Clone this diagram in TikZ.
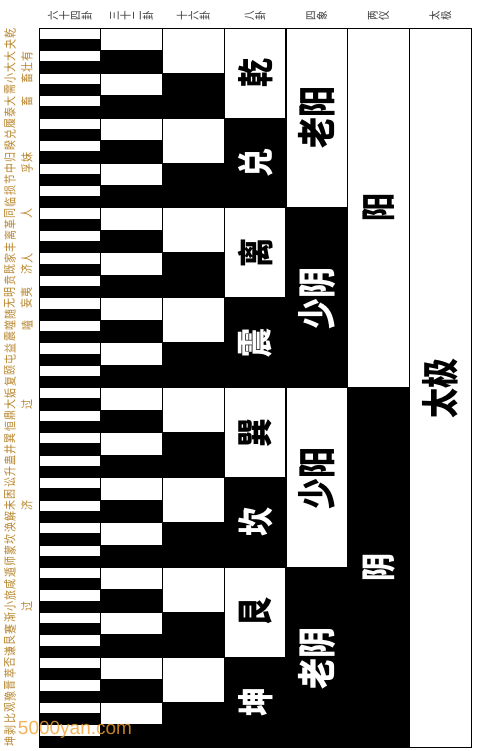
\documentclass[tikz,border=0pt]{standalone}
\usepackage{fontspec}
\setmainfont{Liberation Sans}
\newfontfamily\cjk{Noto Sans CJK SC}
\usepackage{xcolor}
\usepackage{tikz}
\definecolor{guabrown}{HTML}{B8862E}
\definecolor{headgray}{HTML}{3A3A3A}
\definecolor{wmorange}{HTML}{F0A030}

\tikzset{
  yangbar/.style={fill=white,draw=black,line width=0.5pt},
  yinbar/.style={fill=black,draw=black,line width=0.5pt},
  guahead/.style={font=\cjk\fontsize{9.5}{9.4}\selectfont,text=headgray,
    rotate=90,yscale=1.2,align=center,inner sep=0pt},
  guaname/.style={font=\cjk\fontsize{10}{13.6}\selectfont,text=guabrown,
    rotate=90,yscale=1.25,align=center,inner sep=0pt,anchor=north},
  biglabel/.style={font=\cjk\bfseries\fontsize{29}{30}\selectfont,
    rotate=90,yscale=1.25,inner sep=0pt},
}

\begin{document}
\begin{tikzpicture}[x=1pt,y={(0,-1pt)}]
  \useasboundingbox (0,0) rectangle (477,751);
  \fill[white] (0,0) rectangle (477,751);
  % bars, one column per stage
  \foreach \k/\n in {0/64,1/32,2/16,3/8,4/4,5/2} {
    \foreach \j in {1,...,\n} {
      \ifodd\j\relax \def\cellstyle{yangbar}\else\def\cellstyle{yinbar}\fi
      \draw[\cellstyle] ({39+\k*61.714},{28+(\j-1)*(719/\n)}) rectangle ++(61.714,{719/\n});
    }
  }
  \draw[yangbar] (409.286,28) rectangle (471,747);
  \draw[line width=0.8pt] (39,28) rectangle (471,747);
  \foreach \k in {1,...,6}
    \draw[line width=0.8pt] ({39+\k*61.714},28) -- ({39+\k*61.714},747);

  % column heads
  \foreach \h [count=\i from 0] in {{六\\十\\四\\卦},{三\\十\\二\\卦},{十\\六\\卦},
      {八\\卦},{四\\象},{两\\仪},{太\\极}}
    \node[guahead] (head\i) at ({70+\i*61.714},16) {\h};

  % hexagram names
  \foreach \nm [count=\i from 0] in {乾,夬,{大\\有},{大\\壮},{小\\畜},需,{大\\畜},泰,
      履,兑,睽,{归\\妹},{中\\孚},节,损,临,
      {同\\人},革,离,丰,{家\\人},{既\\济},贲,{明\\夷},
      {无\\妄},随,{噬\\嗑},震,益,屯,颐,复,
      姤,{大\\过},鼎,恒,巽,井,蛊,升,
      讼,困,{未\\济},解,涣,坎,蒙,师,
      遁,咸,旅,{小\\过},渐,蹇,艮,谦,
      否,萃,晋,豫,观,比,剥,坤}
    \node[guaname] (name\i) at (4,{28+(\i+0.5)*11.234}) {\nm};

  % eight trigrams
  \node[biglabel] (qian) at (255.5,73) {乾};
  \node[biglabel,text=white] (dui) at (255.5,163) {兑};
  \node[biglabel] (li) at (255.5,253) {离};
  \node[biglabel,text=white] (zhen) at (255.5,343) {震};
  \node[biglabel] (xun) at (255.5,433) {巽};
  \node[biglabel,text=white] (kan) at (255.5,522) {坎};
  \node[biglabel] (gen) at (255.5,612) {艮};
  \node[biglabel,text=white] (kun) at (255.5,702) {坤};

  % four images
  \node[biglabel,font=\cjk\bfseries\fontsize{31}{32}\selectfont] (laoyang) at (317,118) {老阳};
  \node[biglabel,font=\cjk\bfseries\fontsize{31}{32}\selectfont,text=white] (shaoyin) at (317,298) {少阴};
  \node[biglabel,font=\cjk\bfseries\fontsize{31}{32}\selectfont] (shaoyang) at (317,478) {少阳};
  \node[biglabel,font=\cjk\bfseries\fontsize{31}{32}\selectfont,text=white] (laoyin) at (317,658) {老阴};

  % two modes and the great ultimate
  \node[biglabel,font=\cjk\bfseries\fontsize{28}{29}\selectfont] (yang) at (379,208) {阳};
  \node[biglabel,font=\cjk\bfseries\fontsize{28}{29}\selectfont,text=white] (yin) at (379,567) {阴};
  \node[biglabel,font=\cjk\bfseries\fontsize{30}{31}\selectfont] (taiji) at (440,388) {太极};

  \node[text=wmorange,opacity=0.8,font=\fontsize{19}{20}\selectfont,inner sep=0pt]
    (mark) at (75,730) {5000yan.com};
\end{tikzpicture}
\end{document}
